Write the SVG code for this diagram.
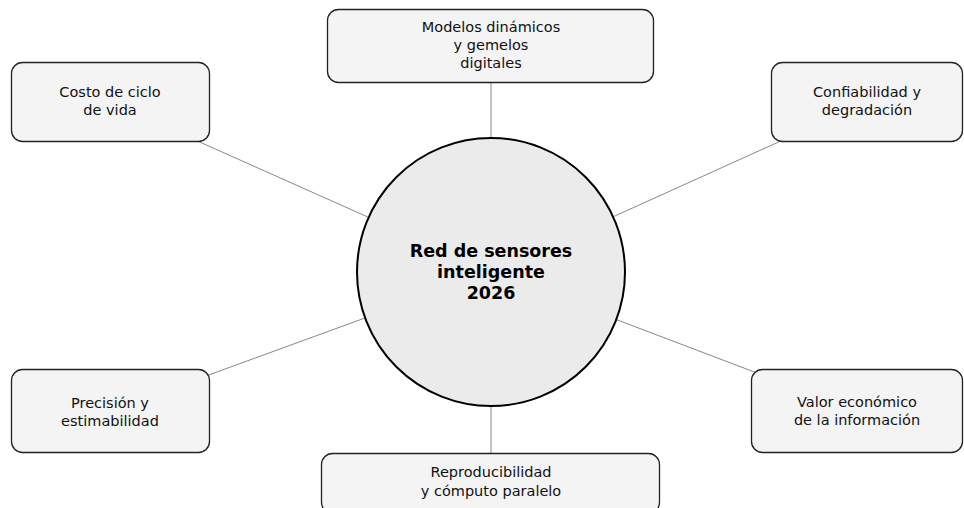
<svg xmlns="http://www.w3.org/2000/svg" width="964" height="508" viewBox="0 0 964 508">
<style>
.box{fill:#f4f4f4;stroke:#222;stroke-width:1.3}
.hub{fill:#ebebeb;stroke:#000;stroke-width:2}
.lbl{font-family:"DejaVu Sans",sans-serif;font-size:14.5px;fill:#111;text-anchor:middle}
.hubl{font-family:"DejaVu Sans",sans-serif;font-size:17.5px;font-weight:bold;fill:#000;text-anchor:middle}
.edge{stroke:#888;stroke-width:1;fill:none}
</style>
<rect width="964" height="508" fill="#fff"/>
<g id="connectors">
<line class="edge" x1="491" y1="46" x2="491" y2="272"/>
<line class="edge" x1="110" y1="102" x2="491" y2="272"/>
<line class="edge" x1="867" y1="102" x2="491" y2="272"/>
<line class="edge" x1="110" y1="411" x2="491" y2="272"/>
<line class="edge" x1="857" y1="411" x2="491" y2="272"/>
<line class="edge" x1="491" y1="481" x2="491" y2="272"/>
</g>
<g id="hub">
<circle class="hub" cx="491" cy="272" r="134"/>
<text class="hubl" x="491" y="257">Red de sensores</text>
<text class="hubl" x="491" y="278">inteligente</text>
<text class="hubl" x="491" y="299">2026</text>
</g>
<g id="n-modelos">
<rect class="box" x="327.5" y="9.5" width="326" height="73" rx="11"/>
<text class="lbl" x="491" y="32">Modelos dinámicos</text>
<text class="lbl" x="491" y="50">y gemelos</text>
<text class="lbl" x="491" y="68">digitales</text>
</g>
<g id="n-costo">
<rect class="box" x="11.5" y="62.5" width="198" height="79" rx="11"/>
<text class="lbl" x="110" y="97">Costo de ciclo</text>
<text class="lbl" x="110" y="115">de vida</text>
</g>
<g id="n-confiabilidad">
<rect class="box" x="771.5" y="62.5" width="191" height="79" rx="11"/>
<text class="lbl" x="867" y="97">Confiabilidad y</text>
<text class="lbl" x="867" y="115">degradación</text>
</g>
<g id="n-precision">
<rect class="box" x="11.5" y="369.5" width="198" height="83" rx="11"/>
<text class="lbl" x="110" y="408">Precisión y</text>
<text class="lbl" x="110" y="426">estimabilidad</text>
</g>
<g id="n-valor">
<rect class="box" x="751.5" y="369.5" width="211" height="83" rx="11"/>
<text class="lbl" x="857" y="407">Valor económico</text>
<text class="lbl" x="857" y="425">de la información</text>
</g>
<g id="n-reproducibilidad">
<rect class="box" x="321.5" y="453.5" width="338" height="60" rx="11"/>
<text class="lbl" x="491" y="477">Reproducibilidad</text>
<text class="lbl" x="491" y="496">y cómputo paralelo</text>
</g>
</svg>
